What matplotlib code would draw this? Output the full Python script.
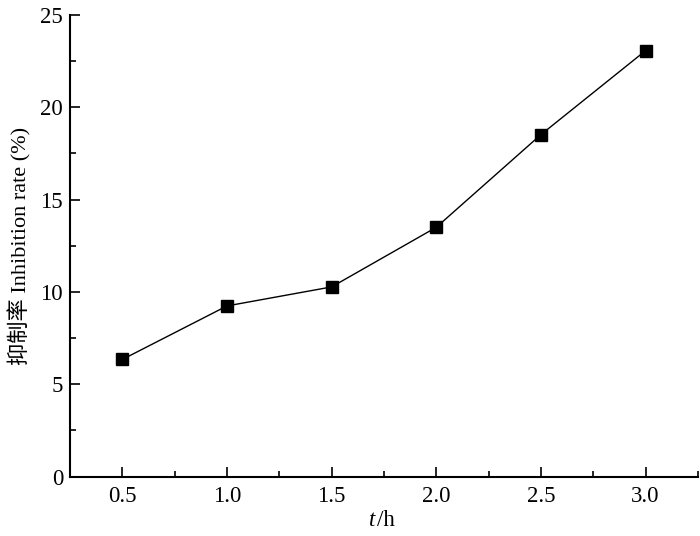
import matplotlib
matplotlib.use('Agg')
import matplotlib.pyplot as plt
from matplotlib.ticker import MultipleLocator

# time (h) and inhibition rate (%)
t_hours = [0.5, 1.0, 1.5, 2.0, 2.5, 3.0]
inhibition = [6.34, 9.24, 10.27, 13.50, 18.52, 23.07]

x_ticks = [0.5, 1.0, 1.5, 2.0, 2.5, 3.0]
x_tick_labels = ['0.5', '1.0', '1.5', '2.0', '2.5', '3.0']
y_ticks = [0, 5, 10, 15, 20, 25]

serif = ['Liberation Serif', 'Noto Sans CJK SC']

fig = plt.figure(figsize=(7.0, 5.36), dpi=100)
ax = fig.add_axes([0.1, 0.111, 0.897, 0.861])

ax.plot(t_hours, inhibition, color='black', linewidth=1.0,
        marker='s', markersize=8, markerfacecolor='black', markeredgecolor='black')

ax.set_xlim(0.25, 3.25)
ax.set_ylim(0, 25)

ax.set_xticks(x_ticks)
ax.set_xticklabels(x_tick_labels)
ax.set_yticks(y_ticks)
ax.xaxis.set_minor_locator(MultipleLocator(0.25))
ax.yaxis.set_minor_locator(MultipleLocator(2.5))

ax.tick_params(which='major', direction='in', length=7, width=1.2, labelsize=16.5, pad=7)
ax.tick_params(which='minor', direction='in', length=4, width=1.2)
ax.tick_params(axis='y', pad=5)
for lab in ax.get_xticklabels() + ax.get_yticklabels():
    lab.set_family(serif)

ax.spines['top'].set_visible(False)
ax.spines['right'].set_visible(False)
ax.spines['left'].set_linewidth(1.5)
ax.spines['bottom'].set_linewidth(1.5)

# x label: italic t, upright /h
fig.text(0.536, 0.018, 't', fontsize=16.5, family=serif, style='italic',
         ha='right', va='baseline')
fig.text(0.539, 0.018, '/h', fontsize=16.5, family=serif, ha='left', va='baseline')

ax.set_ylabel('抑制率 Inhibition rate (%)', fontsize=16, family=serif, labelpad=6)

fig.savefig('out.png', dpi=100, facecolor='white')
